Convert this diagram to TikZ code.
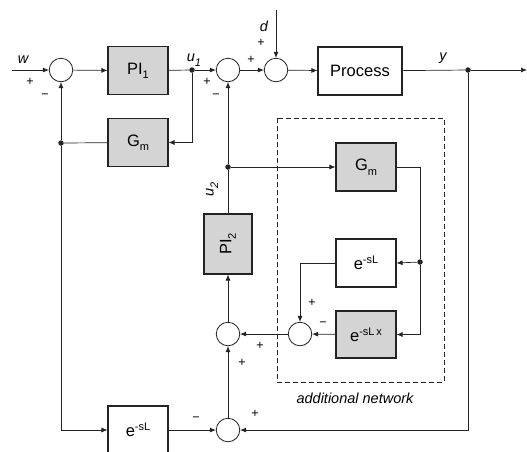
\documentclass[tikz,border=0pt]{standalone}
\usepackage{fontspec}
\setmainfont{Liberation Sans}
\usetikzlibrary{arrows.meta}
\definecolor{boxgray}{RGB}{212,212,212}
\definecolor{ink}{RGB}{35,35,35}
\newcommand{\lowsub}[1]{\raisebox{-4.5pt}{\fontsize{11}{12}\selectfont #1}}
\newcommand{\highsup}[1]{\raisebox{6pt}{\fontsize{11}{12}\selectfont #1}}
\tikzset{
    blk/.style = {draw = ink, line width = 1.1pt, minimum width = 60pt, minimum height = 48pt,
                  inner sep = 0pt, font = \fontsize{16.5}{18}\selectfont},
    gblk/.style = {blk, fill = boxgray},
    sumj/.style = {draw = ink, circle, minimum size = 23.5pt, inner sep = 0pt, line width = 0.8pt, fill = white},
    wire/.style = {draw = ink, line width = 0.7pt},
    sig/.style = {wire, -{Latex[length = 6pt, width = 5pt]}},
    jdot/.style = {fill = ink, circle, inner sep = 0pt, minimum size = 5.5pt},
    lbl/.style = {font = \fontsize{14.5}{16}\selectfont\itshape, inner sep = 0pt},
    sgn/.style = {font = \fontsize{12.5}{14}\selectfont, inner sep = 0pt}
}
\begin{document}
\begin{tikzpicture}[x = 1pt, y = -1pt]
    \useasboundingbox (0,0) rectangle (527,451);
    \clip (0,0) rectangle (527,451);
    % upper loop
    \node[sumj] (sum1) at (61,70) {};
    \node[gblk] (pi1) at (138,70.7) {PI\lowsub{1}};
    \node[gblk] (gm1) at (138,142.5) {G\lowsub{m}};
    \node[sumj] (sum2) at (228,70) {};
    \node[sumj] (sum3) at (276,70) {};
    \node[blk, fill = white, minimum width = 84pt] (proc) at (360,71) {Process};
    \node[jdot] (ju1) at (192,70) {};
    \node[jdot] (jy) at (468,70) {};
    \node[jdot] (jgm) at (61,143) {};
    \coordinate (win) at (12,70);
    \coordinate (din) at (276,10);
    \coordinate (yout) at (527,70);
    % additional network
    \draw[ink, line width = 0.7pt, dash pattern = on 5pt off 3pt] (277,118) rectangle (444,382);
    \node[gblk] (gm2) at (366,167) {G\lowsub{m}};
    \node[blk, fill = white] (dl1) at (366,263) {e\highsup{-sL}};
    \node[gblk, minimum height = 47pt] (dlx) at (366,334.5) {e\highsup{-sL\,x}};
    \node[sumj] (sumi) at (300,334) {};
    \node[jdot] (jr) at (420,262) {};
    \node[jdot] (ju2) at (228,167) {};
    % lower part
    \node[gblk, rotate = 90] (pi2) at (228,244) {PI\lowsub{2}};
    \node[sumj] (sum4) at (228,334) {};
    \node[sumj] (sum5) at (228,430) {};
    \node[blk, fill = white] (dl2) at (138,430) {e\highsup{-sL}};
    % connectors
    \draw[sig] (win) -- (sum1);
    \draw[sig] (sum1) -- (pi1);
    \draw[wire] (pi1) -- (ju1);
    \draw[sig] (ju1) -- (sum2);
    \draw[sig] (ju1) |- (gm1.east);
    \draw[wire] (gm1) -- (jgm);
    \draw[sig] (jgm) -- (sum1);
    \draw[sig] (jgm) |- (dl2.west);
    \draw[sig] (sum2) -- (sum3);
    \draw[sig] (din) -- (sum3);
    \draw[sig] (sum3) -- (proc);
    \draw[wire] (proc) -- (jy);
    \draw[sig] (jy) -- (yout);
    \draw[sig] (jy) |- (sum5.east);
    \draw[sig] (dl2) -- (sum5);
    \draw[sig] (sum5) -- (sum4);
    \draw[sig] (sum4) -- (pi2);
    \draw[wire] (pi2) -- (ju2);
    \draw[sig] (ju2) -- (sum2);
    \draw[sig] (ju2) -- (gm2.west);
    \draw[wire] (gm2.east) -| (jr);
    \draw[sig] (jr) -- (dl1.east);
    \draw[sig] (jr) |- (dlx.east);
    \draw[sig] (dlx) -- (sumi);
    \draw[sig] (dl1.west) -| (sumi.north);
    \draw[sig] (sumi) -- (sum4);
    % labels and signs
    \node[lbl] (lw) at (23,60) {w};
    \node[lbl] (lu1) at (194,60) {u\lowsub{\itshape 1}};
    \node[lbl] (ld) at (264,26) {d};
    \node[lbl] (ly) at (443,58) {y};
    \node[lbl, rotate = 90] (lu2) at (212,189) {u\lowsub{\itshape 2}};
    \node[lbl] (lnet) at (355,398) {additional network};
    \node[sgn] at (30,82) {+};
    \node[sgn] at (45,96) {−};
    \node[sgn] at (207,82) {+};
    \node[sgn] at (216,96) {−};
    \node[sgn] at (251,60) {+};
    \node[sgn] at (261,43) {+};
    \node[sgn] at (312,303) {+};
    \node[sgn] at (323,324) {−};
    \node[sgn] at (260,346) {+};
    \node[sgn] at (242,363) {+};
    \node[sgn] at (196,419) {−};
    \node[sgn] at (255,414) {+};
\end{tikzpicture}
\end{document}
